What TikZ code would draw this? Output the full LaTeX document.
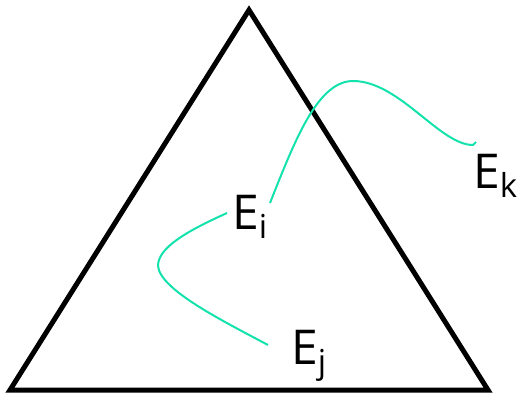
\documentclass[tikz,border=0pt]{standalone}
\usepackage{fontspec}
\setmainfont{Open Sans}
\definecolor{curvegreen}{RGB}{20,226,172}
\newcommand{\lbl}[2]{\fontsize{48}{48}\selectfont #1\raisebox{-9pt}{\fontsize{33}{33}\selectfont #2}}
\begin{document}
\begin{tikzpicture}[x=1pt,y=-1pt,
  tri/.style={line width=5pt,line join=miter},
  link/.style={curvegreen,line width=2pt},
  lab/.style={inner sep=0pt,anchor=base west}]
\useasboundingbox (0,0) rectangle (519,396);
\coordinate (top) at (249,10);
\coordinate (bl) at (10,390);
\coordinate (br) at (488,390);
\draw[tri] (top) -- (bl) -- (br) -- cycle;
\node[lab] (ei) at (232,229) {\lbl{E}{i}};
\node[lab] (ej) at (291,364) {\lbl{E}{j}};
\node[lab] (ek) at (473,188) {\lbl{E}{k}};
\coordinate (ia) at (270,203);
\coordinate (ib) at (227,213);
\coordinate (jend) at (268,345);
\coordinate (peak) at (354,81);
\coordinate (kend) at (473,145);
\coordinate (khook) at (476,142);
\draw[link] (ia) .. controls (295,140) and (318,80) .. (peak)
  .. controls (400,82) and (440,145) .. (kend) -- (khook);
\draw[link] (ib) .. controls (185,232) and (158,248) .. (158,266)
  .. controls (160,290) and (225,322) .. (jend);
\end{tikzpicture}
\end{document}
